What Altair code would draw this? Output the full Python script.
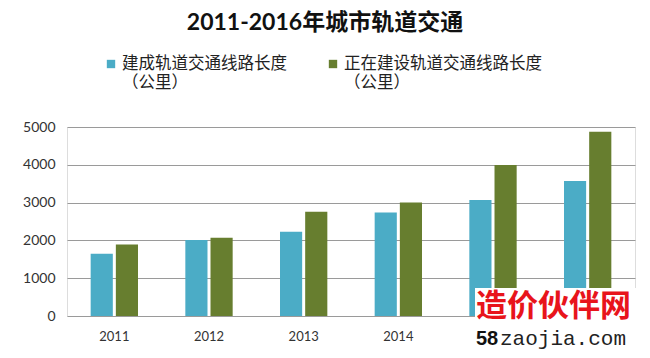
import altair as alt
import pandas as pd

years = ["2011", "2012", "2013", "2014", "2015", "2016"]
built = [1650, 2010, 2230, 2740, 3070, 3570]
building = [1890, 2070, 2760, 3005, 3995, 4875]
series_names = ["建成轨道交通线路长度\n（公里）", "正在建设轨道交通线路长度\n（公里）"]
series_colors = ["#4BACC6", "#677E2F"]
title_text = "2011-2016年城市轨道交通"
wm_cn = "造价伙伴网"
wm_num = "58"
wm_site = "zaojia.com"
shown_year_labels = ["2011", "2012", "2013", "2014"]  # 2015/2016 covered by watermark

FONT = "Lato, Noto Sans CJK SC, sans-serif"

rows = []
for i, y in enumerate(years):
    rows.append({"year": y, "series": series_names[0], "value": built[i]})
    rows.append({"year": y, "series": series_names[1], "value": building[i]})
df = pd.DataFrame(rows)
one = pd.DataFrame({"d": [0]})

bars = alt.Chart(df).mark_bar().encode(
    x=alt.X("year:N", sort=years,
            scale=alt.Scale(paddingInner=0.5, paddingOuter=0.25),
            axis=alt.Axis(title=None, labelAngle=0, ticks=False, domain=False,
                          values=shown_year_labels,
                          labelPadding=14, labelFontSize=13, labelColor="#333333",
                          labelFont=FONT)),
    xOffset=alt.XOffset("series:N", sort=series_names,
                        scale=alt.Scale(paddingInner=0.12)),
    y=alt.Y("value:Q", scale=alt.Scale(domain=[0, 5000]),
            axis=alt.Axis(title=None, values=[0, 1000, 2000, 3000, 4000, 5000],
                          format="d", ticks=False, domain=False, labelPadding=12,
                          labelFontSize=14, labelColor="#333333", labelFont=FONT,
                          grid=True, gridColor="#9A9A9A", gridWidth=1.2)),
    color=alt.Color("series:N", sort=series_names,
                    scale=alt.Scale(domain=series_names, range=series_colors),
                    legend=None),
)

title = alt.Chart(one).mark_text(
    text=title_text, font=FONT, fontSize=23, fontWeight="bold", color="#111111",
    align="center", baseline="middle"
).encode(x=alt.value(258), y=alt.value(-104))

leg_layers = []
leg_x = [44, 266]
for i in range(2):
    leg_layers.append(alt.Chart(one).mark_square(size=70, color=series_colors[i], opacity=1)
                      .encode(x=alt.value(leg_x[i]), y=alt.value(-63)))
    leg_layers.append(alt.Chart(one).mark_text(
        text=series_names[i], font=FONT, fontSize=16.5, color="#222222",
        align="left", baseline="middle", lineBreak="\n", lineHeight=19
    ).encode(x=alt.value(leg_x[i] + 11), y=alt.value(-63)))

wm_box = alt.Chart(one).mark_rect(color="white", opacity=1).encode(
    x=alt.value(408), x2=alt.value(590), y=alt.value(161), y2=alt.value(240))
wm_red = alt.Chart(one).mark_text(
    text=wm_cn, font="Noto Sans CJK SC", fontSize=31, fontWeight="bold",
    color="#E8141B", align="left", baseline="middle"
).encode(x=alt.value(409), y=alt.value(180))
wm_58 = alt.Chart(one).mark_text(
    text=wm_num, font="Liberation Sans", fontSize=20, fontWeight="bold",
    color="#111111", align="left", baseline="middle"
).encode(x=alt.value(409), y=alt.value(212))
wm_site_t = alt.Chart(one).mark_text(
    text=wm_site, font="Liberation Mono", fontSize=21,
    color="#222222", align="left", baseline="middle"
).encode(x=alt.value(433), y=alt.value(212))

chart = alt.layer(bars, title, *leg_layers, wm_box, wm_red, wm_58, wm_site_t).properties(
    width=568, height=189,
    autosize=alt.AutoSizeParams(type="none"),
    padding={"left": 59, "top": 119, "right": 7, "bottom": 34},
).configure_view(stroke=None).configure(background="white")

chart.save("out.html", embed_options={"renderer": "svg", "actions": False})
